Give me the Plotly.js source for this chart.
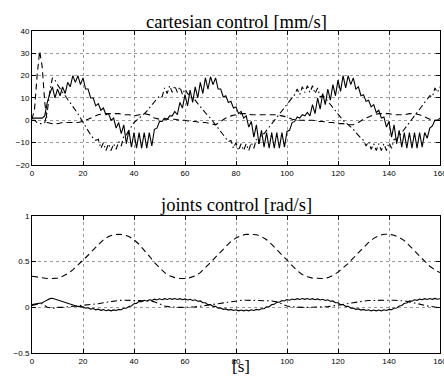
<!DOCTYPE html>
<html>
<head>
<meta charset="utf-8">
<script src="https://cdn.plot.ly/plotly-3.0.1.min.js"></script>
<style>html,body{margin:0;padding:0;background:#fff;}#chart{width:444px;height:378px;}</style>
</head>
<body>
<div id="chart"></div>
<script>
// time bases [s]
const t1 = [0,1,2,3,4,5,6,7,8,9,10,11,12,13,14,15,16,17,18,19,20,21,22,23,24,25,26,27,28,29,30,31,32,33,34,35,36,37,38,39,40,41,42,43,44,45,46,47,48,49,50,51,52,53,54,55,56,57,58,59,60,61,62,63,64,65,66,67,68,69,70,71,72,73,74,75,76,77,78,79,80,81,82,83,84,85,86,87,88,89,90,91,92,93,94,95,96,97,98,99,100,101,102,103,104,105,106,107,108,109,110,111,112,113,114,115,116,117,118,119,120,121,122,123,124,125,126,127,128,129,130,131,132,133,134,135,136,137,138,139,140,141,142,143,144,145,146,147,148,149,150,151,152,153,154,155,156,157,158,159,160];
const t2 = [0,2,4,6,8,10,12,14,16,18,20,22,24,26,28,30,32,34,36,38,40,42,44,46,48,50,52,54,56,58,60,62,64,66,68,70,72,74,76,78,80,82,84,86,88,90,92,94,96,98,100,102,104,106,108,110,112,114,116,118,120,122,124,126,128,130,132,134,136,138,140,142,144,146,148,150,152,154,156,158,160];
const tB = [0,1,2,3,4,5,6,8,10,12,14,16,18,20,22,24,26,28,30,32,34,36,38,40,42,44,46,48,50,52,54,56,58,60,62,64,66,68,70,72,74,76,78,80,82,84,86,88,90,92,94,96,98,100,102,104,106,108,110,112,114,116,118,120,122,124,126,128,130,132,134,136,138,140,142,144,146,148,150,152,154,156,158,160];

// cartesian control [mm/s]
const cartSolid = [1,1,1,1,1,2,8,12,15,10,14,11,15,12,17,15,20,17,20,16,19,14,14,10,10,6.5,7.5,4.5,5.5,2.5,3,0,1,-3.5,-1,-6,-2,-10.5,-4.5,-12,-5.5,-12.5,-5.5,-12.5,-5.5,-12.5,-5.5,-11.5,-4,-3.5,-0.5,-0.5,1,0.5,2,2,4,2.5,8,5.5,11.5,6.5,13.5,8,15,10,17,12,19,14,19.5,16,19,14,14,10.5,11,8,8.5,5.5,6,3,4,1,2,-3,-0.5,-7.5,-2,-10.5,-4.5,-12,-5.5,-12.5,-5.5,-12.5,-5.5,-12.5,-5.5,-12,-5,-4.5,-1,-0.5,1.5,1,2.5,2,3.5,2,7,3,10,5,12,7,14,9,16,11,18,13,20,14.5,20,16,19,14,15,11,11.5,8.5,9,6,7,3.5,4.5,1,1.5,-3,-0.5,-7.5,-2,-10.5,-4.5,-12,-5.5,-12.5,-5.5,-12.5,-5.5,-12.5,-5.5,-12,-5.5,-8,-3.5,-2.5,0,0,1];
const cartDash = [0.5,5,20,31,24,8,-1,-1.5,-1.5,-1,-1,-1,-1,-0.5,0.5,1.5,2.5,3,3,3,3,2.5,2.5,2,2.5,3,2.5,1,0.5,0.5,0.5,0.5,0,0,-0.5,-0.5,-1,-1,-1.5,-2,-0.5,1,2,2.5,3,3,2.5,2.5,2.5,2.5,2.5,2.5,2,1.5,0.5,0,0,0,0,-0.5,-0.5,-1,-1,-1.5,-1.5,-2,-2,-1,0.5,1.5,2.5,3,3,3,2.5,2.5,2.5,3,3,2.5,1.5,0.5,0,0];
const cartDashDot = [0,0,-1,-1.5,-1.5,-1,4,13,19,18,16,14,12.5,11,9.5,8,6.5,5,3,1,-1,-3,-5,-6.5,-8,-9,-8.5,-12.5,-10,-13.5,-10.5,-13.5,-10.5,-13,-9.5,-11.5,-7,-6.5,-4.5,-2.5,-1,0,1,2,3,4,5.5,7,8.5,10,11,10.5,14.5,12,15.5,12.5,15.5,12.5,15,11.5,14,12,11,10,9,7.5,6,4.5,3,2,1,-0.5,-2,-3.5,-5,-7,-8.5,-9.5,-9,-12.5,-10,-13.5,-10.5,-13.5,-10.5,-13.5,-10,-12.5,-8.5,-10.5,-6,-6,-4.5,-3,-1.5,0,1.5,3,4.5,6,7.5,9,10.5,11.5,14,11.5,15,12.5,15.5,12.5,15.5,12,14.5,10.5,11,10,8.5,7,5.5,4,2.5,1,0,-1,-2,-3,-4,-5.5,-7,-8,-9,-11.5,-9.5,-13,-10.5,-13.5,-10.5,-13.5,-10.5,-13.5,-10,-12.5,-8.5,-8.5,-7,-5.5,-4,-2.5,-1,0.5,2,3.5,5,6.5,8,9.5,11,10.5,14.5,12.5,15];

// joints control [rad/s]
const jointDash = [0.34,0.33,0.32,0.315,0.315,0.32,0.34,0.37,0.41,0.46,0.51,0.57,0.63,0.69,0.74,0.775,0.795,0.8,0.795,0.775,0.74,0.69,0.63,0.56,0.49,0.43,0.38,0.345,0.325,0.315,0.315,0.325,0.345,0.38,0.43,0.49,0.55,0.61,0.67,0.72,0.76,0.785,0.8,0.8,0.795,0.775,0.74,0.69,0.63,0.57,0.51,0.45,0.4,0.36,0.335,0.32,0.315,0.315,0.325,0.35,0.385,0.43,0.48,0.54,0.6,0.66,0.71,0.755,0.785,0.8,0.8,0.79,0.765,0.73,0.68,0.62,0.56,0.5,0.45,0.41,0.38];
const jointSolid = [0.03,0.035,0.04,0.045,0.05,0.065,0.08,0.095,0.1,0.09,0.08,0.07,0.06,0.05,0.04,0.032,0.025,0.018,0.01,0.005,0.005,-0.01,-0.005,-0.019,-0.013,-0.027,-0.02,-0.033,-0.025,-0.037,-0.028,-0.038,-0.028,-0.035,-0.023,-0.027,-0.01,-0.01,0.01,0.015,0.04,0.043,0.065,0.061,0.077,0.07,0.083,0.076,0.089,0.081,0.093,0.084,0.095,0.086,0.097,0.087,0.097,0.086,0.095,0.083,0.092,0.08,0.088,0.075,0.082,0.066,0.07,0.05,0.05,0.03,0.03,0.01,0.01,-0.009,-0.007,-0.022,-0.017,-0.03,-0.023,-0.035,-0.027,-0.038,-0.029,-0.039,-0.029,-0.038,-0.027,-0.035,-0.023,-0.029,-0.015,-0.015,0.005,0.007,0.03,0.033,0.055,0.055,0.075,0.07,0.085,0.078,0.091,0.083,0.095,0.086,0.097,0.087,0.097,0.086,0.095,0.083,0.092,0.08,0.088,0.075,0.082,0.066,0.07,0.05,0.05,0.03,0.03,0.01,0.01,-0.009,-0.007,-0.022,-0.017,-0.03,-0.023,-0.035,-0.027,-0.038,-0.029,-0.039,-0.029,-0.038,-0.027,-0.035,-0.023,-0.027,-0.01,-0.008,0.015,0.02,0.045,0.048,0.07,0.067,0.083,0.077,0.09,0.083,0.095,0.086,0.097,0.087,0.098,0.088,0.094];
const jointDashDot = [0.02,0.035,0.04,0.0,-0.01,0.0,0.0,0.005,0.01,0.015,0.02,0.025,0.03,0.04,0.05,0.06,0.07,0.075,0.078,0.078,0.078,0.077,0.075,0.07,0.06,0.04,0.015,0.005,0.0,0.0,0.0,0.0,0.005,0.012,0.02,0.028,0.035,0.045,0.055,0.065,0.072,0.076,0.078,0.078,0.078,0.077,0.075,0.07,0.06,0.04,0.015,0.005,0.0,0.0,0.0,0.0,0.0,0.002,0.008,0.015,0.025,0.033,0.04,0.05,0.06,0.068,0.074,0.077,0.078,0.078,0.078,0.077,0.075,0.07,0.06,0.05,0.035,0.02,0.01,0.003,0.0];

// axis ticks
const xTicks = [0,20,40,60,80,100,120,140,160];
const yTopTicks = [-20,-10,0,10,20,30,40];
const yBotTicks = [-0.5,0,0.5,1];

const tickFont = {family: 'Liberation Sans, Arial, sans-serif', size: 8, color: '#000'};
const titleFont = {family: 'Liberation Serif, Times New Roman, serif', size: 18.5, color: '#000'};
const unitFont = {family: 'Liberation Serif, Times New Roman, serif', size: 17, color: '#000'};

function axisStyle(extra) {
  return Object.assign({
    showline: true, linecolor: '#000', linewidth: 1, mirror: 'ticks',
    ticks: 'inside', ticklen: 4, tickwidth: 1, tickcolor: '#000',
    showgrid: true, gridcolor: '#555', griddash: 'dot', gridwidth: 0.6,
    zeroline: false, tickfont: tickFont, fixedrange: true,
    ticklabeloverflow: 'allow'
  }, extra);
}

const SOLID = {color: '#000', width: 1.1};
const DASH = {color: '#000', width: 1.1, dash: '6px,4px'};
const DASHDOT = {color: '#000', width: 1.1, dash: '6px,3px,1.5px,3px'};

const traces = [
  {x: t1, y: cartSolid, xaxis: 'x', yaxis: 'y', mode: 'lines', line: SOLID},
  {x: tB, y: cartDash, xaxis: 'x', yaxis: 'y', mode: 'lines', line: DASH},
  {x: t1, y: cartDashDot, xaxis: 'x', yaxis: 'y', mode: 'lines', line: DASHDOT},
  {x: t2, y: jointDash, xaxis: 'x2', yaxis: 'y2', mode: 'lines', line: DASH},
  {x: t1, y: jointSolid, xaxis: 'x2', yaxis: 'y2', mode: 'lines', line: SOLID},
  {x: t2, y: jointDashDot, xaxis: 'x2', yaxis: 'y2', mode: 'lines', line: DASHDOT}
];

const layout = {
  width: 444, height: 378,
  margin: {l: 32, r: 4, t: 31, b: 25},
  paper_bgcolor: '#fff', plot_bgcolor: '#fff',
  showlegend: false,
  xaxis: axisStyle({domain: [0, 1], range: [0, 160], tickvals: xTicks, anchor: 'y'}),
  yaxis: axisStyle({domain: [0.5839, 1], range: [-20, 40], tickvals: yTopTicks, anchor: 'x'}),
  xaxis2: axisStyle({domain: [0, 1], range: [0, 160], tickvals: xTicks, anchor: 'y2'}),
  yaxis2: axisStyle({domain: [0, 0.4255], range: [-0.5, 1], tickvals: yBotTicks, anchor: 'x2'}),
  annotations: [
    {text: 'cartesian control [mm/s]', xref: 'paper', yref: 'paper', x: 0.5, y: 0.99, xanchor: 'center', yanchor: 'bottom', showarrow: false, font: titleFont},
    {text: 'joints control [rad/s]', xref: 'paper', yref: 'paper', x: 0.5, y: 0.4224, xanchor: 'center', yanchor: 'bottom', showarrow: false, font: titleFont},
    {text: '[s]', xref: 'paper', yref: 'paper', x: 0.512, y: -0.01, xanchor: 'center', yanchor: 'top', showarrow: false, borderpad: 0, font: unitFont}
  ]
};

Plotly.newPlot('chart', traces, layout, {staticPlot: true, displayModeBar: false});
</script>
</body>
</html>
